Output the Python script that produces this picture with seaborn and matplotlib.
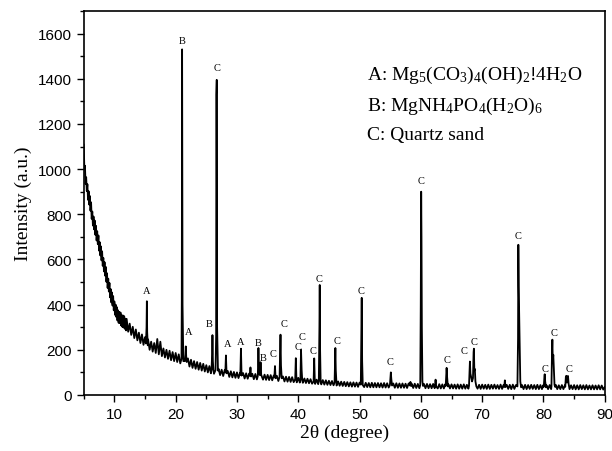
import numpy as np
import pandas as pd
import matplotlib
matplotlib.use("Agg")
import matplotlib.pyplot as plt
import seaborn as sns
from matplotlib.ticker import MultipleLocator

# ---------------- data ----------------
# steep low-angle part, 5.0-12.0 deg, step 0.1 deg
low_start = 5.0
low_step = 0.1
low_counts = [
    1110, 1005, 1015, 934, 964, 903, 933, 864, 902, 843,
    881, 816, 853, 780, 812, 750, 790, 733, 772, 709,
    749, 684, 725, 668, 706, 639, 677, 618, 658, 596,
    636, 572, 607, 547, 588, 528, 567, 501, 539, 474,
    515, 458, 496, 432, 469, 410, 454, 396, 438, 375,
    414, 355, 400, 346, 389, 330, 375, 319, 368, 318,
    365, 308, 353, 302, 352, 299, 349, 293, 338, 286,
    337,
]
# rest of the scan, 12.25-90 deg, step 0.25 deg
high_start = 12.25
high_step = 0.25
high_counts = [
    280, 316, 266,
    302, 252, 290, 242,    276, 230, 268, 222,   256, 236, 246, 200,
    236, 192, 230, 186,    248, 180, 236, 172,   206, 166, 200, 160,
    196, 154, 190, 150,    186, 146, 180, 140,   172, 136, 168, 130,
    162, 126, 156, 120,    150, 116, 146, 112,   142, 108, 138, 104,
    132, 100, 128, 96,     124, 94, 120, 90,     116, 88, 112, 84,
    110, 82, 106, 80,      105, 78, 102, 76,     100, 75, 98, 74,
    97, 73, 96, 72,        95, 71, 94, 70,       93, 69, 92, 68,
    91, 68, 90, 67,        89, 66, 88, 65,       86, 64, 85, 62,
    83, 61, 82, 60,        81, 59, 80, 58,       79, 57, 78, 56,
    76, 55, 75, 54,        73, 53, 72, 52,       70, 50, 69, 49,
    68, 48, 67, 47,        66, 46, 65, 45,       63, 44, 62, 43,
    61, 42, 60, 41,        59, 40, 58, 39,       57, 38, 56, 37,
    56, 37, 55, 36,        55, 36, 54, 35,       54, 35, 53, 34,
    54, 34, 53, 34,        53, 34, 52, 33,       53, 33, 52, 33,
    52, 33, 51, 32,        52, 32, 51, 32,       51, 32, 50, 31,
    51, 31, 50, 31,        50, 31, 49, 30,       50, 31, 49, 30,
    49, 30, 48, 30,        49, 30, 48, 29,       48, 29, 47, 29,
    48, 29, 47, 29,        47, 29, 46, 28,       47, 28, 46, 28,
    47, 28, 45, 28,        46, 28, 46, 27,       47, 28, 45, 27,
    46, 28, 45, 27,        46, 27, 45, 28,       46, 28, 44, 27,
    46, 27, 45, 27,        45, 27, 45, 26,       46, 27, 44, 27,
    45, 27, 44, 26,        45, 26, 44, 27,       45, 27, 44, 26,
    45, 26, 44, 26,        45, 27, 43, 26,       44, 26, 44, 26,
    45, 26, 43, 26,        44, 26, 43, 25,       44, 26, 43, 26,
    44, 25, 43, 25,        44, 26, 43, 25,       44, 25, 42, 25,
    43, 25, 42, 25,        43, 25, 42, 24,       36,
]

peak_theta = [
    [15.15, 15.25, 15.30, 15.35, 15.45],
    [20.95, 21.00, 21.05, 21.12, 21.25],
    [21.50, 21.60, 21.65, 21.72, 21.80],
    [25.85, 25.95, 26.00, 26.07, 26.15],
    [26.50, 26.60, 26.64, 26.70, 26.76, 26.90],
    [28.10, 28.20, 28.30],
    [30.55, 30.65, 30.75],
    [32.10, 32.20, 32.30],
    [33.40, 33.50, 33.60, 33.75, 33.85, 33.95, 34.05],
    [36.10, 36.20, 36.30],
    [36.95, 37.05, 37.10, 37.18, 37.30],
    [39.50, 39.60, 39.70],
    [40.35, 40.45, 40.55, 40.65],
    [42.50, 42.60, 42.70],
    [43.35, 43.45, 43.50, 43.56, 43.65],
    [45.92, 46.00, 46.05, 46.12, 46.22],
    [50.20, 50.30, 50.35, 50.42, 50.52],
    [54.95, 55.05, 55.10, 55.18, 55.30],
    [58.20, 58.30, 58.40],
    [59.90, 59.98, 60.05, 60.10, 60.16, 60.25, 60.35],
    [62.30, 62.40, 62.50],
    [64.05, 64.15, 64.20, 64.28, 64.40],
    [67.85, 67.95, 68.00, 68.08, 68.20, 68.35, 68.50, 68.60, 68.65, 68.72, 68.80, 68.90, 69.05],
    [73.60, 73.70, 73.80],
    [75.75, 75.85, 75.90, 75.96, 76.05, 76.12, 76.22, 76.35],
    [80.05, 80.15, 80.20, 80.28, 80.40],
    [81.30, 81.40, 81.45, 81.52, 81.60, 81.68, 81.80, 81.90],
    [83.55, 83.65, 83.72, 83.82, 83.92, 84.00, 84.10, 84.20],
]
peak_counts = [
    [228, 300, 415, 280, 220],
    [160, 420, 1530, 400, 150],
    [150, 180, 215, 170, 146],
    [112, 180, 265, 150, 112],
    [110, 260, 1330, 1395, 300, 108],
    [100, 175, 96],
    [90, 205, 86],
    [85, 122, 82],
    [84, 208, 95, 88, 145, 90, 82],
    [78, 128, 74],
    [80, 200, 267, 130, 74],
    [70, 163, 68],
    [68, 200, 110, 64],
    [60, 162, 58],
    [62, 300, 487, 200, 58],
    [54, 150, 208, 110, 52],
    [46, 300, 430, 150, 44],
    [44, 85, 100, 70, 42],
    [42, 58, 40],
    [44, 400, 900, 700, 300, 60, 40],
    [40, 68, 38],
    [40, 100, 120, 80, 38],
    [40, 110, 148, 95, 80, 60, 75, 190, 205, 110, 115, 60, 38],
    [36, 65, 35],
    [38, 250, 665, 480, 338, 200, 60, 34],
    [36, 80, 92, 60, 34],
    [38, 200, 245, 150, 178, 120, 45, 36],
    [36, 80, 85, 55, 82, 84, 50, 34],
]

label_text = ["A", "B", "A", "B", "C", "A", "A", "B", "B", "C", "C", "C", "C",
              "C", "C", "C", "C", "C", "C", "C", "C", "C", "C", "C", "C", "C"]
label_theta = [15.24, 21.12, 22.10, 25.44, 26.83, 28.46, 30.66, 33.48, 34.30,
               35.83, 37.68, 39.90, 40.56, 42.40, 43.39, 46.27, 50.24, 54.97,
               60.02, 64.20, 67.04, 68.72, 75.80, 80.30, 81.72, 84.12]
label_y = [462, 1570, 282, 316, 1449, 227, 237, 234, 168, 183, 316, 214, 260,
           196, 517, 240, 463, 148, 949, 156, 197, 235, 705, 119, 275, 119]

legend_lines = [
    r"A: Mg$_5$(CO$_3$)$_4$(OH)$_2$!4H$_2$O",
    r"B: MgNH$_4$PO$_4$(H$_2$O)$_6$",
    r"C: Quartz sand",
]
legend_theta = 51.2
legend_y = [1399, 1262, 1133]

# ---------------- assemble the pattern ----------------
bg_theta = np.concatenate([low_start + low_step * np.arange(len(low_counts)),
                           high_start + high_step * np.arange(len(high_counts))])
bg_counts = np.array(low_counts + high_counts, dtype=float)
keep = np.ones(len(bg_theta), dtype=bool)
for th in peak_theta:
    keep &= ~((bg_theta >= th[0] - 1e-9) & (bg_theta <= th[-1] + 1e-9))
all_theta = np.concatenate([bg_theta[keep]] + [np.array(t) for t in peak_theta])
all_counts = np.concatenate([bg_counts[keep]] + [np.array(c, float) for c in peak_counts])
order = np.argsort(all_theta, kind="stable")
df = pd.DataFrame({"two_theta": all_theta[order], "intensity": all_counts[order]})

# ---------------- plot ----------------
sns.set_theme(style="ticks")
plt.rcParams["font.family"] = ["Liberation Serif", "DejaVu Serif"]
plt.rcParams["mathtext.fontset"] = "custom"
plt.rcParams["mathtext.rm"] = "Liberation Serif"
plt.rcParams["mathtext.it"] = "Liberation Serif:italic"
plt.rcParams["mathtext.bf"] = "Liberation Serif:bold"

fig, ax = plt.subplots(figsize=(6.12, 4.52), dpi=100)
fig.subplots_adjust(left=0.1368, right=0.9882, bottom=0.1239, top=0.9735)

sns.lineplot(data=df, x="two_theta", y="intensity", estimator=None, sort=False,
             color="black", linewidth=1.3, ax=ax)

ax.set_xlim(5, 90)
ax.set_ylim(0, 1700)
ax.xaxis.set_major_locator(MultipleLocator(10))
ax.xaxis.set_minor_locator(MultipleLocator(5))
ax.yaxis.set_major_locator(MultipleLocator(200))
ax.yaxis.set_minor_locator(MultipleLocator(100))
ax.tick_params(which="both", direction="out", color="black", width=1.0,
               top=False, right=False)
ax.tick_params(which="major", length=5)
ax.tick_params(which="minor", length=3)
for lab in ax.get_xticklabels() + ax.get_yticklabels():
    lab.set_fontfamily("Liberation Sans")
    lab.set_fontsize(11)
    lab.set_color("black")
for sp in ax.spines.values():
    sp.set_visible(True)
    sp.set_color("black")
    sp.set_linewidth(1.2)

ax.set_xlabel("2θ (degree)", fontsize=14, color="black", labelpad=2)
ax.set_ylabel("Intensity (a.u.)", fontsize=14, color="black", labelpad=4)

for t, x, y in zip(label_text, label_theta, label_y):
    ax.text(x, y, t, fontsize=7.5, ha="center", va="center", color="black")

for line, y in zip(legend_lines, legend_y):
    ax.text(legend_theta, y, line, fontsize=14, ha="left", va="baseline",
            color="black")

ax.grid(False)
fig.savefig("out.png", dpi=100)
